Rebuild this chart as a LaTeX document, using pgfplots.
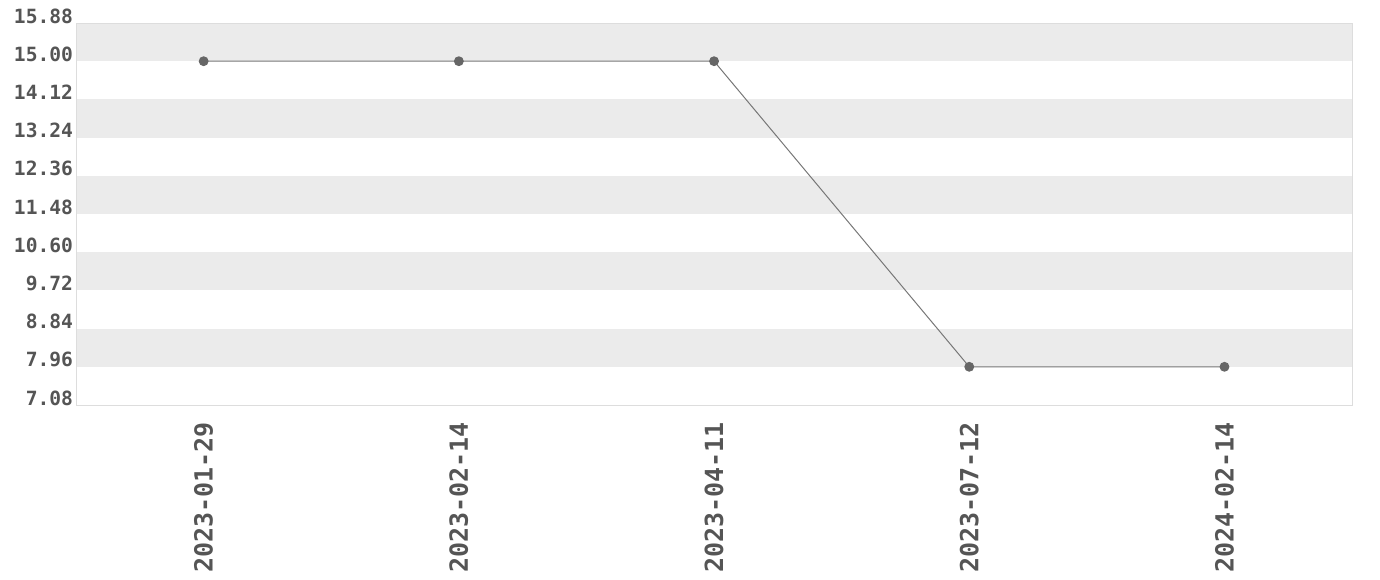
\documentclass[border=0pt]{standalone}
\usepackage{pgfplots}
\pgfplotsset{compat=1.18}
\usepackage{fontspec}
\setmainfont{DejaVu Sans Mono}
\definecolor{txt}{HTML}{555555}
\definecolor{band}{HTML}{EBEBEB}
\definecolor{frame}{HTML}{DDDDDD}
\definecolor{ln}{HTML}{777777}
\definecolor{mk}{HTML}{666666}
\begin{document}
\begin{tikzpicture}
\begin{axis}[
    scale only axis,
    width=638pt, height=191pt,
    xmin=-0.5, xmax=4.5,
    ymin=7.08, ymax=15.88,
    xtick={0,1,2,3,4},
    xticklabels={2023-01-29,2023-02-14,2023-04-11,2023-07-12,2024-02-14},
    ytick={7.08,7.96,8.84,9.72,10.60,11.48,12.36,13.24,14.12,15.00,15.88},
    yticklabel style={/pgf/number format/fixed, /pgf/number format/fixed zerofill,
        /pgf/number format/precision=2,
        font=\bfseries\fontsize{9.8pt}{10pt}\selectfont, text=txt, xshift=2pt, yshift=3.5pt},
    xticklabel style={font=\bfseries\fontsize{12.5pt}{13pt}\selectfont, text=txt, rotate=90, anchor=east},
    xticklabel shift=5pt,
    /pgf/number format/assume math mode=true,
    major tick length=0pt,
    axis line style={frame, line width=0.5pt},
    axis on top,
    clip=false,
]
% alternating bands
\fill[band] (axis cs:-0.5,15.00) rectangle (axis cs:4.5,15.88);
\fill[band] (axis cs:-0.5,13.24) rectangle (axis cs:4.5,14.12);
\fill[band] (axis cs:-0.5,11.48) rectangle (axis cs:4.5,12.36);
\fill[band] (axis cs:-0.5,9.72) rectangle (axis cs:4.5,10.60);
\fill[band] (axis cs:-0.5,7.96) rectangle (axis cs:4.5,8.84);
\addplot[color=ln, line width=0.5pt, mark=*, mark size=2.2pt, mark options={fill=mk, draw=mk}] coordinates {
    (0,15.00) (1,15.00) (2,15.00) (3,7.96) (4,7.96)
};
\coordinate (bl) at (rel axis cs:-0.0596,-0.4581);
\coordinate (tr) at (rel axis cs:1.0219,1.0602);
\end{axis}
\pgfresetboundingbox
\useasboundingbox (bl) rectangle (tr);
\end{tikzpicture}
\end{document}
